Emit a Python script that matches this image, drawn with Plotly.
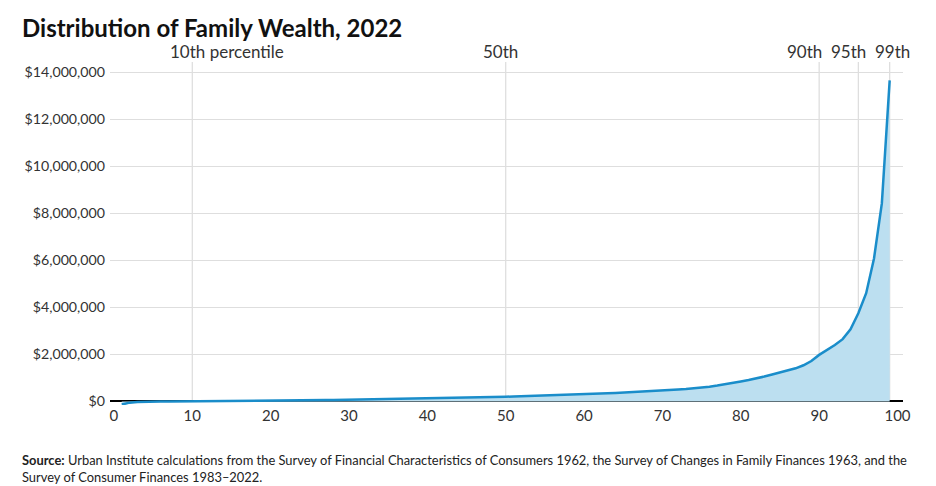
import plotly.graph_objects as go

percentiles = list(range(1, 100))
wealth = [
    -130000, -50000, -20000, -5000, 0, 1000, 2500, 4000, 5500, 7000,
    9000, 11000, 13000, 15000, 17000, 19500, 22000, 25000, 28000, 31000,
    34000, 37500, 41000, 45000, 49000, 53000, 57500, 62000, 67000, 72000,
    77000, 82000, 88000, 94000, 100000, 106000, 112000, 118000, 125000, 132000,
    139000, 146000, 153000, 160000, 167000, 174000, 181000, 188000, 195000, 203000,
    212000, 221000, 230000, 240000, 250000, 260000, 271000, 282000, 294000, 306000,
    319000, 332000, 346000, 360000, 375000, 390000, 406000, 423000, 441000, 460000,
    482000, 505000, 530000, 558000, 590000, 630000, 675000, 725000, 785000, 850000,
    912000, 980000, 1060000, 1150000, 1240000, 1320000, 1410000, 1540000, 1720000, 1980000,
    2190000, 2400000, 2650000, 3070000, 3750000, 4600000, 6080000, 8420000, 13650000,
]

marker_pcts = [10, 50, 90, 95, 99]
marker_labels = ["10th percentile", "50th", "90th", "95th", "99th"]
label_centers = [14.4, 49.3, 88.1, 93.7, 99.3]

y_ticks = [0, 2000000, 4000000, 6000000, 8000000, 10000000, 12000000, 14000000]
y_ticktext = ["$" + format(v, ",") for v in y_ticks]
x_ticks = [0, 10, 20, 30, 40, 50, 60, 70, 80, 90, 100]

FONT = "Lato, 'Open Sans', sans-serif"
TXT = "#333333"

fig = go.Figure()
fig.add_trace(go.Scatter(
    x=percentiles, y=wealth, mode="lines",
    line=dict(color="#1a8dca", width=2.5),
    fill="tozeroy", fillcolor="#bcdff0",
    hoverinfo="skip", showlegend=False,
))

shapes = []
for p in marker_pcts:
    shapes.append(dict(type="line", xref="x", yref="y domain", x0=p, x1=p, y0=0.0105, y1=1,
                       line=dict(color="#dcdcdc", width=1.2), layer="below"))

annotations = [
    dict(text="Distribution of Family Wealth, 2022", xref="paper", yref="paper",
         x=0, y=1, xanchor="left", yanchor="bottom", showarrow=False,
         font=dict(family=FONT, size=24, color="#111111", weight="bold"),
         xshift=-90, yshift=18),
    dict(text="<b>Source:</b> Urban Institute calculations from the Survey of Financial Characteristics of Consumers 1962, the Survey of Changes in Family Finances 1963, and the<br>Survey of Consumer Finances 1983–2022.",
         xref="paper", yref="paper", x=0, y=0, xanchor="left", yanchor="top",
         showarrow=False, align="left",
         font=dict(family=FONT, size=12.9, color="#222222"),
         xshift=-90, yshift=-45),
]
for lbl, cx in zip(marker_labels, label_centers):
    annotations.append(dict(text=lbl, xref="x", yref="paper", x=cx, y=1,
                            xanchor="center", yanchor="bottom", showarrow=False,
                            font=dict(family=FONT, size=17, color=TXT), yshift=-2))

fig.update_layout(
    width=936, height=486,
    margin=dict(l=110, r=33, t=62, b=81),
    paper_bgcolor="white", plot_bgcolor="white",
    font=dict(family=FONT, size=14, color=TXT),
    shapes=shapes, annotations=annotations,
    xaxis=dict(range=[-0.5, 100.7], tickvals=x_ticks, showgrid=False, zeroline=False,
               showline=False, ticks="", tickfont=dict(size=15, color=TXT)),
    yaxis=dict(range=[-150000, 14430000], tickvals=y_ticks, ticktext=y_ticktext,
               showgrid=True, gridcolor="#dedede", gridwidth=1,
               zeroline=True, zerolinecolor="#000000", zerolinewidth=1.5,
               ticks="", ticklabelstandoff=4, tickfont=dict(size=14.2, color=TXT)),
)

fig.write_html("out.html", config={"displayModeBar": False},
               post_script="document.body.style.margin='0';document.body.style.overflow='hidden';")
